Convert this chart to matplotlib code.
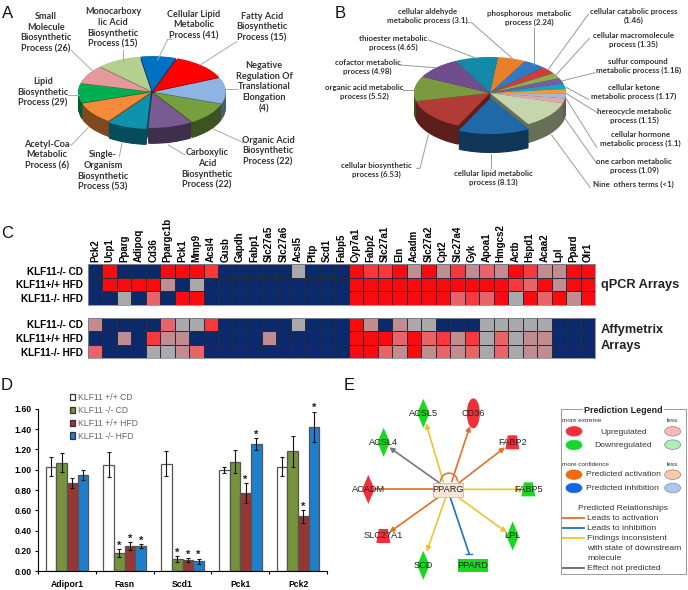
import matplotlib
matplotlib.use("Agg")
import matplotlib.pyplot as plt
import numpy as np
from matplotlib.colors import ListedColormap, to_rgb
from matplotlib.patches import Ellipse, Polygon, Rectangle, Arc, FancyArrowPatch, Patch

W, H = 688, 590

# --- PANEL A ---
pie_a_shares = [8, 13, 12, 10.5, 10, 9, 10, 9, 8.5, 10]
pie_a_colors = ['#0070c0', '#ff0000', '#8db4e2', '#76a03e', '#7a5a92',
                '#0d93ae', '#f58a3a', '#00b050', '#e6999a', '#b5cf8f']
pie_a_labels = ['Small\nMolecule\nBiosynthetic\nProcess (26)',
                'Monocarboxy\nlic Acid\nBiosynthetic\nProcess (15)',
                'Cellular Lipid\nMetabolic\nProcess (41)',
                'Fatty Acid\nBiosynthetic\nProcess (15)',
                'Negative\nRegulation Of\nTranslational\nElongation\n(4)',
                'Organic Acid\nBiosynthetic\nProcess (22)',
                'Carboxylic\nAcid\nBiosynthetic\nProcess (22)',
                'Single-\nOrganism\nBiosynthetic\nProcess (53)',
                'Acetyl-Coa\nMetabolic\nProcess (6)',
                'Lipid\nBiosynthetic\nProcess (29)']
pie_a_label_xy = [(46, 32.5), (113, 28), (194, 25), (262, 27), (264, 87),
                  (268, 151), (207, 169), (103, 171), (47, 155), (43, 92.5)]
pie_a_leaders = [[(213, 150), (280, 215)], [(370, 150), (370, 185)],
                 [(515, 118), (503, 118), (473, 180)], [(710, 125), (600, 195)],
                 [(715, 268), (672, 268)], [(730, 428), (640, 387)],
                 [(555, 465), (505, 435)], [(358, 470), (366, 430)],
                 [(205, 435), (215, 435), (265, 382)], [(205, 285), (238, 285)]]

# --- PANEL B ---
pie_b_shares = [21.6, 17, 12, 9, 9, 9, 7, 8, 8, 43, 55, 52, 40, 36, 33]
pie_b_colors = ['#e8802a', '#2f7ac4', '#c8403e', '#8cb04a', '#7a5aa0',
                '#1ea0c0', '#f79a30', '#a8b8d8', '#e0a8a8', '#c6d6ac',
                '#1f69a8', '#b13b36', '#7a9a3e', '#6e4e8c', '#148aa8']
pie_b_labels = ['cellular aldehyde\nmetabolic process (3.1)',
                'phosphorous  metabolic\nprocess (2.24)',
                'cellular catabolic process\n(1.46)',
                'cellular macromolecule\nprocess (1.35)',
                'sulfur compound\nmetabolic process (1.18)',
                'cellular ketone\nmetabolic process (1.17)',
                'hereocycle metabolic\nprocess (1.15)',
                'cellular hormone\nmetabolic process (1.1)',
                'one carbon metabolic\nprocess (1.09)',
                'Nine  others terms (<1)',
                'cellular lipid metabolic\nprocess (8.13)',
                'cellular biosynthetic\nprocess (6.53)',
                'organic acid metabolic\nprocess (5.52)',
                'cofactor metabolic\nprocess (4.98)',
                'thioester metabolic\nprocess (4.65)']
pie_b_label_xy = [(427.3, 16), (529, 18.3), (633.7, 16), (633.3, 40.3), (638.3, 66),
                  (634, 91.7), (634.7, 115.7), (640.7, 139.3), (634.3, 166), (633.3, 184.7),
                  (493.3, 177.7), (376.7, 170), (364.3, 92.3), (367.7, 67), (393.3, 42.7)]
pie_b_leaders = [[(443, 68), (455, 68), (580, 178)], [(643, 85), (643, 195)],
                 [(805, 43), (685, 208)], [(808, 115), (708, 225)], [(825, 218), (725, 243)],
                 [(805, 298), (738, 262)], [(835, 340), (738, 280)], [(830, 442), (738, 295)],
                 [(830, 490), (735, 355)], [(810, 562), (695, 405)], [(512, 505), (512, 462)],
                 [(290, 505), (300, 505), (325, 405)], [(250, 270), (282, 270)],
                 [(240, 195), (345, 203)], [(325, 120), (470, 175)]]

# --- PANEL C ---
genes = ['Pck2', 'Ucp1', 'Pparg', 'Adipoq', 'Cd36', 'Ppargc1b', 'Pck1', 'Mmp9', 'Acsl4',
         'Gusb', 'Gapdh', 'Fabp1', 'Slc27a5', 'Slc27a6', 'Acsl5', 'Pltp', 'Scd1', 'Fabp5',
         'Cyp7a1', 'Fabp2', 'Slc27a1', 'Eln', 'Acadm', 'Slc27a2', 'Cpt2', 'Slc27a4', 'Gyk',
         'Apoa1', 'Hmgcs2', 'Actb', 'Hspd1', 'Acaa2', 'Lpl', 'Ppard', 'Olr1']
row_labels = ['KLF11-/- CD', 'KLF11+/+ HFD', 'KLF11-/- HFD']
# N navy, G grey, M mauve, P salmon, O light red, R red
qpcr_rows = ['NRNNNRRRONNNNNGNNN' + 'ROORMRMOMPMROMMRR',
             'NRRRRMNGNNNNNNNNNN' + 'RRRRRRRRRRROPRMRR',
             'NNGNPNRRNNNNNNNNNN' + 'RRRRRRRPOPRGRPRMR']
affy_rows = ['MNNNNPGGONNNNNGNNN' + 'RMNMGGNNNGGGGGNNN',
             'NNMNOMMNNNNNMNNNNN' + 'RRRPRPOMOGPGMMNNN',
             'PNNNGGMPNNNNNNNNNN' + 'RRPMRMPMPGPGMMNNN']
level_order = 'NGMPOR'
level_colors = ['#0b2a6b', '#a9a9ab', '#c08c90', '#e86468', '#f8383a', '#fb0a10']

# --- PANEL D ---
bar_genes = ['Adipor1', 'Fasn', 'Scd1', 'Pck1', 'Pck2']
bar_series = ['KLF11 +/+ CD', 'KLF11 -/- CD', 'KLF11 +/+ HFD', 'KLF11 -/- HFD']
bar_values = [[1.03, 1.05, 1.06, 1.00, 1.03],
              [1.07, 0.18, 0.12, 1.08, 1.18],
              [0.87, 0.245, 0.11, 0.77, 0.54],
              [0.95, 0.25, 0.10, 1.25, 1.42]]
bar_errors = [[0.09, 0.125, 0.12, 0.03, 0.09],
              [0.09, 0.035, 0.03, 0.11, 0.155],
              [0.05, 0.04, 0.02, 0.10, 0.06],
              [0.05, 0.02, 0.025, 0.06, 0.15]]
bar_stars = [[0, 0, 0, 0, 0],
             [0, 1, 1, 0, 0],
             [0, 1, 1, 1, 1],
             [0, 1, 1, 1, 1]]
bar_colors = ['#ffffff', '#76923c', '#953735', '#1f7fcb']

# --- PANEL E ---
ORANGE, YELLOW, BLUE, GREY = '#e0702a', '#eec52d', '#1f6fc0', '#777777'
RED_NODE, GREEN_NODE = '#ef3038', '#18d820'
# name, shape, colour, centre in zoom units
nodes = [('ACSL5', 'diamond', GREEN_NODE, 280, 130), ('CD36', 'ellipse', RED_NODE, 430, 130),
         ('ACSL4', 'diamond', GREEN_NODE, 161, 217), ('FABP2', 'trap', RED_NODE, 547, 217),
         ('ACADM', 'diamond', RED_NODE, 115, 358), ('FABP5', 'trap', GREEN_NODE, 595, 358),
         ('SLC27A1', 'trap', RED_NODE, 160, 498), ('LPL', 'diamond', GREEN_NODE, 548, 498),
         ('SCD', 'diamond', GREEN_NODE, 280, 586), ('PPARD', 'rect', GREEN_NODE, 429, 586)]
edges = [((340, 335), (288, 160), YELLOW), ((365, 335), (420, 168), ORANGE),
         ((330, 340), (178, 232), GREY), ((385, 340), (525, 232), ORANGE),
         ((400, 358), (575, 358), YELLOW), ((325, 382), (178, 487), ORANGE),
         ((385, 382), (530, 487), YELLOW), ((348, 380), (290, 545), YELLOW)]

LABEL_FONT = 'Lato'
ARIAL = 'Liberation Sans'

fig = plt.figure(figsize=(W / 100, H / 100), dpi=100)


def px_axes(left, top, right, bottom, **kw):
    return fig.add_axes([left / W, 1 - bottom / H, (right - left) / W, (bottom - top) / H], **kw)


def darker(c, f):
    return tuple(v * f for v in to_rgb(c))


def pie_3d(box, rx, ry, depth, shares, colors, start, explode):
    ax = px_axes(*box)
    cx = (box[0] + box[2]) / 2
    cy = (box[1] + box[3]) / 2
    dark = [darker(c, 0.52) for c in colors]
    # stack of dark pies for the side wall, then the coloured top
    for d in np.arange(depth, 0, -0.5):
        ax.pie(shares, colors=dark, startangle=start, counterclock=False, explode=explode,
               center=(0, -d / ry), radius=1, wedgeprops={'linewidth': 0})
    ax.pie(shares, colors=colors, startangle=start, counterclock=False, explode=explode,
           radius=1, wedgeprops={'linewidth': 0})
    ax.set_aspect('auto')
    ax.set_xlim((box[0] - cx) / rx, (box[2] - cx) / rx)
    ax.set_ylim((cy - box[3]) / ry, (cy - box[1]) / ry)
    ax.patch.set_alpha(0)


# overlay in pixel coordinates for labels, leaders and the network
ov = px_axes(0, 0, W, H)
ov.set_xlim(0, W)
ov.set_ylim(H, 0)
ov.axis('off')
ov.set_zorder(5)

pie_3d((62, 32, 242, 152), 72, 35, 16, pie_a_shares, pie_a_colors, 99.3,
       [0.025, 0.025, 0.025, 0.025, 0.025, 0.06, 0.025, 0.025, 0.025, 0.025])
pie_3d((400, 33, 580, 153), 76, 36, 19, pie_b_shares, pie_b_colors, 84,
       [0, 0, 0, 0, 0, 0, 0, 0, 0, 0, 0.14, 0, 0, 0, 0])

for lab, (x, y), pts in zip(pie_a_labels, pie_a_label_xy, pie_a_leaders):
    ov.text(x, y, lab, ha='center', va='center', family=LABEL_FONT, weight='bold',
            fontsize=6.6, color='#333333', linespacing=1.25)
    ov.plot([p[0] / 3 for p in pts], [p[1] / 3 for p in pts], color='#aaaaaa', lw=0.7)

for lab, (x, y), pts in zip(pie_b_labels, pie_b_label_xy, pie_b_leaders):
    ov.text(x, y, lab, ha='center', va='center', family=LABEL_FONT, weight='bold',
            fontsize=5.7, color='#333333', linespacing=1.25)
    ov.plot([320 + p[0] / 3 for p in pts], [p[1] / 3 for p in pts], color='#999999', lw=0.7)

for letter, x, y in [('A', 2, 13), ('B', 335, 13), ('C', 1, 234), ('D', 1, 385), ('E', 344, 385)]:
    ov.text(x, y, letter, ha='left', va='center', family=ARIAL, fontsize=12, color='#111111')

# --- heatmaps ---
cmap = ListedColormap(level_colors)


def heat(rows, top, bottom, show_genes):
    ax = px_axes(88, top, 595, bottom)
    grid = np.array([[level_order.index(c) for c in r] for r in rows])
    ax.pcolormesh(grid, cmap=cmap, vmin=-0.5, vmax=5.5, edgecolors='#2a2a3a', linewidth=0.5)
    ax.set_ylim(3, 0)
    ax.set_yticks(np.arange(3) + 0.5, row_labels, family=ARIAL, weight='bold', fontsize=7.2)
    ax.tick_params(length=0, pad=4)
    if show_genes:
        ax.xaxis.tick_top()
        ax.set_xticks(np.arange(len(genes)) + 0.5, genes, rotation=90, family=ARIAL,
                      weight='bold', fontsize=7)
        ax.tick_params(axis='x', length=0, pad=1.5)
    else:
        ax.set_xticks([])
    for s in ax.spines.values():
        s.set_color('#8a8a98')
        s.set_linewidth(0.6)


heat(qpcr_rows, 264.3, 304.7, True)
heat(affy_rows, 317.7, 358.3, False)
ov.text(601, 285, 'qPCR Arrays', family=ARIAL, weight='bold', fontsize=9.2, va='center', color='#222222')
ov.text(601, 330, 'Affymetrix', family=ARIAL, weight='bold', fontsize=9.2, va='center', color='#222222')
ov.text(601, 346.5, 'Arrays', family=ARIAL, weight='bold', fontsize=9.2, va='center', color='#222222')

# --- bars ---
ax = px_axes(38, 408.7, 327, 571.3)
x = np.arange(len(bar_genes))
bw = 0.185
handles = []
for i, name in enumerate(bar_series):
    pos = x + (i - 1.5) * bw
    ax.bar(pos, bar_values[i], bw, color=bar_colors[i], edgecolor='#555555', linewidth=0.9,
           yerr=bar_errors[i], ecolor='#111111',
           error_kw={'elinewidth': 0.8, 'capsize': 1.5, 'capthick': 0.8})
    handles.append(Patch(facecolor=bar_colors[i], edgecolor='#333333', linewidth=0.9, label=name))
    for j in range(len(bar_genes)):
        if bar_stars[i][j]:
            ax.text(pos[j], bar_values[i][j] + bar_errors[i][j] - 0.015, '*', ha='center', va='bottom',
                    family=ARIAL, weight='bold', fontsize=8, linespacing=1, color='#222222', clip_on=False)
ax.set_xlim(-0.5, 4.5)
ax.set_ylim(0, 1.6)
ax.set_yticks(np.arange(0, 1.61, 0.2))
ax.set_yticklabels(['%.2f' % v for v in np.arange(0, 1.61, 0.2)], family=ARIAL, weight='bold', fontsize=6.2)
ax.set_xticks(np.arange(-0.5, 5, 1))
ax.set_xticklabels([])
ax.set_xticks(x, bar_genes, minor=True, family=ARIAL, weight='bold', fontsize=6.2)
ax.tick_params(axis='x', which='minor', length=0, pad=6)
ax.tick_params(axis='both', which='major', length=2.5, width=0.8, pad=2)
ax.spines[['top', 'right']].set_visible(False)
ax.patch.set_alpha(0)
fig.legend(handles=handles, loc='upper left', bbox_to_anchor=(69.5 / W, 1 - 393 / H), frameon=False,
           fontsize=6.2, labelcolor='#666666', handlelength=0.65, handleheight=0.75, handletextpad=0.3,
           labelspacing=0.45, borderpad=0, borderaxespad=0, prop={'family': ARIAL, 'size': 6.2})


# --- network, coordinates in zoom units of the crop ---
def zx(v):
    return 330 + v / 3


def zy(v):
    return 370 + v / 3


for (a, b, col) in edges:
    ov.add_patch(FancyArrowPatch((zx(a[0]), zy(a[1])), (zx(b[0]), zy(b[1])), arrowstyle='-|>',
                                 mutation_scale=7, color=col, lw=1.2, shrinkA=0, shrinkB=0, zorder=2))
ov.plot([zx(310), zx(130)], [zy(358), zy(358)], color=ORANGE, lw=1.2, zorder=2)
ov.plot([zx(360), zx(417)], [zy(380), zy(550)], color=BLUE, lw=1.2, zorder=2)
ov.plot([zx(407), zx(427)], [zy(551), zy(551)], color=BLUE, lw=1, zorder=2)
ov.add_patch(Arc((zx(357), zy(335)), 17, 17, theta1=180, theta2=360, color=ORANGE, lw=1.1, zorder=2))

for name, shape, col, nx, ny in nodes:
    cx_, cy_ = zx(nx), zy(ny)
    if shape == 'diamond':
        ov.add_patch(Polygon([(cx_, cy_ - 14.5), (cx_ + 6.2, cy_), (cx_, cy_ + 14.5), (cx_ - 6.2, cy_)],
                             color=col, lw=0, zorder=3))
    elif shape == 'ellipse':
        ov.add_patch(Ellipse((cx_, cy_), 13, 30, color=col, lw=0, zorder=3))
    elif shape == 'trap':
        ov.add_patch(Polygon([(cx_ - 4.5, cy_ - 7), (cx_ + 4.5, cy_ - 7), (cx_ + 7, cy_ + 7), (cx_ - 7, cy_ + 7)],
                             color=col, lw=0, zorder=3))
    else:
        ov.add_patch(Rectangle((cx_ - 14.7, cy_ - 6.8), 29.4, 13.6, color=col, lw=0, zorder=3))
    ov.text(cx_, cy_, name, ha='center', va='center', family=ARIAL, fontsize=6.6, color='#222222', zorder=4)

ov.add_patch(Rectangle((433.3, 482.7), 30, 14, facecolor='#f8e6da', edgecolor='#ccbbaa', lw=0.6, zorder=3))
ov.text(448.3, 489.7, 'PPARG', ha='center', va='center', family=ARIAL, fontsize=6.6, color='#222222', zorder=4)

# --- prediction legend ---
ov.add_patch(Rectangle((zx(692), zy(118)), (1068 - 692) / 3, (612 - 118) / 3, facecolor='white',
                       edgecolor='#999999', lw=0.7, zorder=2))
ov.text(zx(880), zy(121), 'Prediction Legend', ha='center', va='center', family=ARIAL, weight='bold',
        fontsize=6.4, color='#222222', zorder=4, bbox=dict(facecolor='white', edgecolor='none', pad=1))


def ltext(x_, y_, s, size=6.1, ha='left'):
    ov.text(zx(x_), zy(y_), s, ha=ha, va='center', family=ARIAL, fontsize=size, color='#333333', zorder=4)


def swatch(x_, y_, face, edge):
    ov.add_patch(Ellipse((zx(x_), zy(y_)), 16, 9.5, facecolor=face, edgecolor=edge, lw=0.5, zorder=3))


ltext(697, 153, 'more extreme', 4.6)
ltext(1028, 153, 'less', 4.6, 'center')
swatch(732, 184, '#f0303a', '#f0303a')
ltext(880, 186, 'Upregulated', ha='center')
swatch(1028, 184, '#fbb8b8', '#888888')
swatch(732, 225, '#18d830', '#18d830')
ltext(880, 226, 'Downregulated', ha='center')
swatch(1028, 224, '#a8f0b8', '#888888')
ltext(697, 283, 'more confidence', 4.6)
ltext(1028, 283, 'less', 4.6, 'center')
swatch(732, 314, '#f06a10', '#f06a10')
ltext(768, 315, 'Predicted activation')
swatch(1028, 314, '#fbc8a8', '#888888')
swatch(732, 354, '#1565e0', '#1565e0')
ltext(768, 355, 'Predicted inhibition')
swatch(1028, 354, '#a8c8f0', '#888888')
ltext(878, 414, 'Predicted Relationships', ha='center')
for yy, col, s in [(444, ORANGE, 'Leads to activation'), (474, BLUE, 'Leads to inhibition'),
                   (504, YELLOW, 'Findings inconsistent'), (594, '#666666', 'Effect not predicted')]:
    ov.plot([zx(700), zx(762)], [zy(yy), zy(yy)], color=col, lw=1.3, zorder=3)
    ltext(772, yy, s)
ltext(772, 534, 'with state of downstream')
ltext(772, 564, 'molecule')

fig.savefig('out.png', dpi=100)
